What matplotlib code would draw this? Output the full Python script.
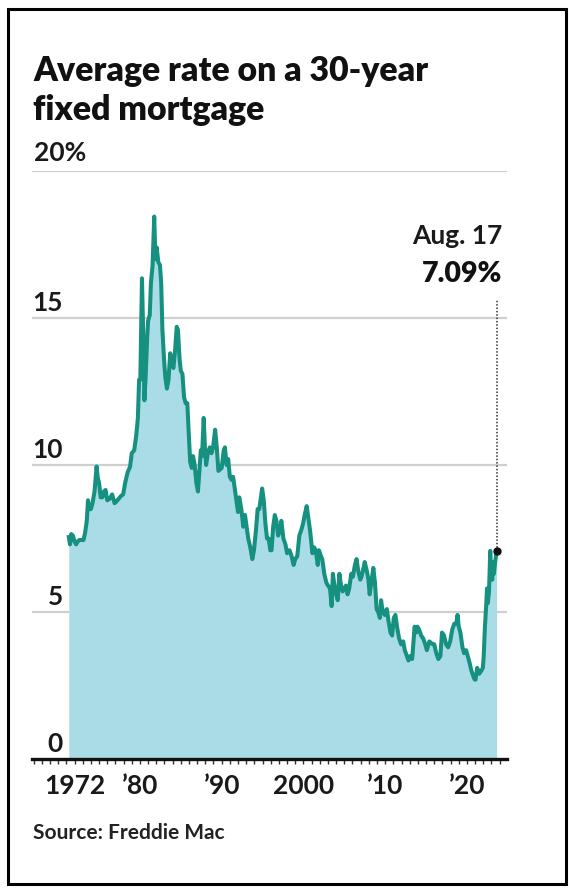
import matplotlib
matplotlib.use("Agg")
import matplotlib.pyplot as plt
from matplotlib.patches import Rectangle
from matplotlib.transforms import blended_transform_factory

# Freddie Mac 30-year fixed rate (decimal year, percent)
years = [
    1971.30, 1971.45, 1971.60, 1971.80, 1972.00, 1972.20, 1972.40, 1972.60, 1972.90,
    1973.10, 1973.30, 1973.50, 1973.65, 1973.80, 1974.00, 1974.20, 1974.45, 1974.70,
    1974.85, 1975.00, 1975.20, 1975.40, 1975.60, 1975.80, 1976.00, 1976.30, 1976.60,
    1976.90, 1977.10, 1977.40, 1977.70, 1977.95, 1978.20, 1978.50, 1978.80, 1979.00,
    1979.30, 1979.55, 1979.75, 1979.90, 1980.05, 1980.25, 1980.40, 1980.55, 1980.70,
    1980.90, 1981.00, 1981.20, 1981.35, 1981.55, 1981.75, 1981.90, 1982.05, 1982.25,
    1982.45, 1982.60, 1982.75, 1982.95, 1983.10, 1983.30, 1983.50, 1983.70, 1983.95,
    1984.10, 1984.30, 1984.50, 1984.65, 1984.85, 1985.00, 1985.20, 1985.40, 1985.60,
    1985.80, 1985.95, 1986.15, 1986.35, 1986.50, 1986.70, 1986.90, 1987.10, 1987.25,
    1987.45, 1987.60, 1987.80, 1987.95, 1988.10, 1988.30, 1988.55, 1988.75, 1988.95,
    1989.20, 1989.40, 1989.60, 1989.80, 1990.00, 1990.25, 1990.40, 1990.60, 1990.80,
    1991.00, 1991.20, 1991.40, 1991.60, 1991.85, 1992.00, 1992.15, 1992.40, 1992.65,
    1992.85, 1993.00, 1993.25, 1993.50, 1993.75, 1993.95, 1994.20, 1994.40, 1994.60,
    1994.80, 1994.95, 1995.15, 1995.35, 1995.55, 1995.75, 1995.95, 1996.10, 1996.30,
    1996.50, 1996.70, 1996.90, 1997.15, 1997.30, 1997.55, 1997.80, 1998.00, 1998.30,
    1998.55, 1998.80, 1999.00, 1999.25, 1999.50, 1999.75, 1999.95, 2000.15, 2000.40,
    2000.60, 2000.80, 2000.95, 2001.10, 2001.30, 2001.50, 2001.75, 2001.90, 2002.15,
    2002.30, 2002.55, 2002.80, 2003.00, 2003.25, 2003.45, 2003.60, 2003.80, 2004.00,
    2004.20, 2004.40, 2004.60, 2004.80, 2005.00, 2005.20, 2005.40, 2005.60, 2005.85,
    2006.05, 2006.30, 2006.50, 2006.70, 2006.95, 2007.10, 2007.35, 2007.50, 2007.75,
    2007.95, 2008.10, 2008.30, 2008.55, 2008.75, 2008.95, 2009.15, 2009.35, 2009.50,
    2009.70, 2009.95, 2010.20, 2010.40, 2010.65, 2010.85, 2011.05, 2011.25, 2011.45,
    2011.70, 2011.95, 2012.20, 2012.40, 2012.65, 2012.85, 2013.05, 2013.30, 2013.60,
    2013.80, 2013.95, 2014.15, 2014.40, 2014.65, 2014.90, 2015.10, 2015.40, 2015.60,
    2015.85, 2016.00, 2016.25, 2016.50, 2016.75, 2016.95, 2017.20, 2017.45, 2017.70,
    2017.95, 2018.20, 2018.45, 2018.70, 2018.85, 2019.00, 2019.20, 2019.45, 2019.65,
    2019.90, 2020.10, 2020.30, 2020.55, 2020.80, 2020.95, 2021.05, 2021.25, 2021.50,
    2021.75, 2021.95, 2022.05, 2022.20, 2022.35, 2022.45, 2022.55, 2022.70, 2022.80,
    2022.85, 2022.95, 2023.10, 2023.15, 2023.30, 2023.45, 2023.55, 2023.63,
]
rates = [
    7.55, 7.30, 7.65, 7.60, 7.40, 7.30, 7.40, 7.45, 7.45,
    7.45, 7.70, 8.10, 8.80, 8.50, 8.50, 8.70, 9.10, 9.95,
    9.55, 9.40, 8.90, 8.90, 9.10, 9.15, 8.80, 8.85, 9.00,
    8.70, 8.75, 8.85, 8.95, 9.00, 9.40, 9.75, 9.95, 10.40,
    10.50, 11.00, 11.60, 12.90, 12.90, 16.35, 14.50, 12.20, 13.00,
    14.40, 14.90, 15.10, 16.20, 16.80, 18.45, 17.00, 17.40, 16.90,
    16.80, 16.20, 14.60, 13.60, 13.00, 12.60, 12.90, 13.80, 13.40,
    13.30, 13.90, 14.70, 14.60, 13.60, 13.20, 13.10, 12.30, 12.10,
    12.10, 11.20, 10.10, 9.90, 10.30, 10.00, 9.40, 9.10, 9.70,
    10.50, 10.30, 11.60, 10.60, 10.00, 10.40, 10.60, 10.40, 10.60,
    11.20, 10.60, 9.80, 9.85, 9.90, 10.50, 10.60, 10.00, 10.20,
    9.60, 9.50, 9.60, 9.20, 8.70, 8.40, 8.90, 8.50, 7.90,
    8.30, 8.00, 7.50, 7.20, 6.80, 7.10, 7.80, 8.50, 8.50,
    8.90, 9.20, 8.80, 8.00, 7.50, 7.50, 7.10, 7.10, 7.90,
    8.30, 8.10, 7.60, 7.80, 8.10, 7.50, 7.30, 7.00, 7.10,
    6.90, 6.60, 6.80, 6.90, 7.60, 7.80, 8.00, 8.30, 8.60,
    8.20, 7.80, 7.40, 7.00, 7.20, 7.10, 6.60, 7.10, 6.90,
    6.80, 6.30, 6.00, 5.90, 5.80, 5.20, 6.30, 5.90, 5.60,
    5.40, 6.30, 5.90, 5.70, 5.80, 5.90, 5.60, 5.80, 6.30,
    6.20, 6.60, 6.80, 6.40, 6.10, 6.20, 6.50, 6.70, 6.40,
    6.10, 5.60, 6.00, 6.50, 6.00, 5.10, 5.00, 4.80, 5.40,
    5.00, 4.90, 5.10, 4.70, 4.30, 4.20, 4.80, 4.90, 4.50,
    4.10, 3.90, 4.00, 3.70, 3.50, 3.35, 3.50, 3.40, 4.50,
    4.30, 4.50, 4.40, 4.20, 4.10, 3.90, 3.70, 4.00, 3.95,
    3.90, 3.90, 3.60, 3.40, 3.50, 4.30, 4.20, 3.90, 3.80,
    4.00, 4.40, 4.60, 4.60, 4.90, 4.50, 4.30, 3.80, 3.60,
    3.70, 3.50, 3.30, 3.00, 2.80, 2.70, 2.70, 3.10, 2.90,
    3.00, 3.10, 3.50, 4.50, 5.20, 5.80, 5.30, 5.70, 6.70,
    7.08, 6.40, 6.10, 6.70, 6.30, 6.70, 6.90, 7.09,
]

y_ticks = [0, 5, 10, 15, 20]
x_ticks = [1972, 1980, 1990, 2000, 2010, 2020]
x_labels = ["1972", "\u201980", "\u201990", "2000", "\u201910", "\u201920"]

W, H = 569, 892
LINE = "#16907f"
FILL = "#a9dce6"
FONT = "Lato"
TXT = "#1a1a1a"

fig = plt.figure(figsize=(W / 100, H / 100), dpi=100)
fig.patch.set_facecolor("white")

# axes placed in pixels: x from 32 to 507, y 0% at 759, 20% at 171
ax = fig.add_axes([32 / W, 1 - 759 / H, (507 - 32) / W, (759 - 171) / H])
ax.set_xlim(1966.8, 2024.9)
ax.set_ylim(0, 20)

ax.fill_between(years, rates, 0, color=FILL, linewidth=0, zorder=1)
ax.plot(years, rates, color=LINE, linewidth=2.9, solid_joinstyle="round", zorder=3)

# grid lines
for v in y_ticks[1:]:
    ax.axhline(v, color="#cfcfcf", linewidth=1.6, zorder=0)

for s in ["top", "right", "left"]:
    ax.spines[s].set_visible(False)
ax.spines["bottom"].set_linewidth(2.4)
ax.spines["bottom"].set_color("#111111")
ax.spines["bottom"].set_zorder(5)

ax.set_yticks([])
ax.set_xticks(x_ticks)
ax.set_xticklabels(x_labels, fontfamily=FONT, fontsize=19, fontweight="bold", color=TXT)
ax.set_xticks(range(1967, 2025), minor=True)
ax.tick_params(axis="x", which="both", direction="out", length=3.5, width=1,
               color="#333333", pad=7)

# y labels sit above their grid lines, near the left edge
tr = blended_transform_factory(fig.transFigure, ax.transData)
for v in y_ticks[:-1]:
    ax.text(63 / W, v + 0.5, str(v), transform=tr, ha="right", va="center",
            fontfamily=FONT, fontsize=19, fontweight="bold", color=TXT)
ax.text(34 / W, 20 + 0.6, "20%", transform=tr, ha="left", va="center",
        fontfamily=FONT, fontsize=19, fontweight="bold", color=TXT)

# latest value annotation
x_last, y_last = years[-1], rates[-1]
ax.plot([x_last, x_last], [y_last, 15.6], color="#333333", linewidth=1.1,
        linestyle=(0, (1, 1.2)), zorder=4)
ax.plot([x_last], [y_last], "o", color="#111111", markersize=5, zorder=6)
ax.text(x_last + 0.75, 17.8, "Aug. 17", ha="right", va="center",
        fontfamily=FONT, fontsize=19, fontweight="bold", color=TXT)
ax.text(x_last + 0.75, 16.5, "7.09%", ha="right", va="center",
        fontfamily=FONT, fontsize=20.5, fontweight="heavy", color="#111111")

# title and source
fig.text(33 / W, 1 - 81 / H, "Average rate on a 30-year", ha="left", va="baseline",
         fontfamily=FONT, fontsize=24.3, fontweight="heavy", color="#111111")
fig.text(33 / W, 1 - 120 / H, "fixed mortgage", ha="left", va="baseline",
         fontfamily=FONT, fontsize=24.3, fontweight="heavy", color="#111111")
fig.text(33 / W, 1 - 833 / H, "Source: Freddie Mac", ha="left", va="center",
         fontfamily=FONT, fontsize=15, fontweight="bold", color="#222222")

# outer frame
fig.patches.append(Rectangle((8 / W, 1 - 884 / H), (566 - 8) / W, (884 - 9) / H,
                             transform=fig.transFigure, fill=False,
                             edgecolor="black", linewidth=2.2))

fig.savefig("out.png", dpi=100)
